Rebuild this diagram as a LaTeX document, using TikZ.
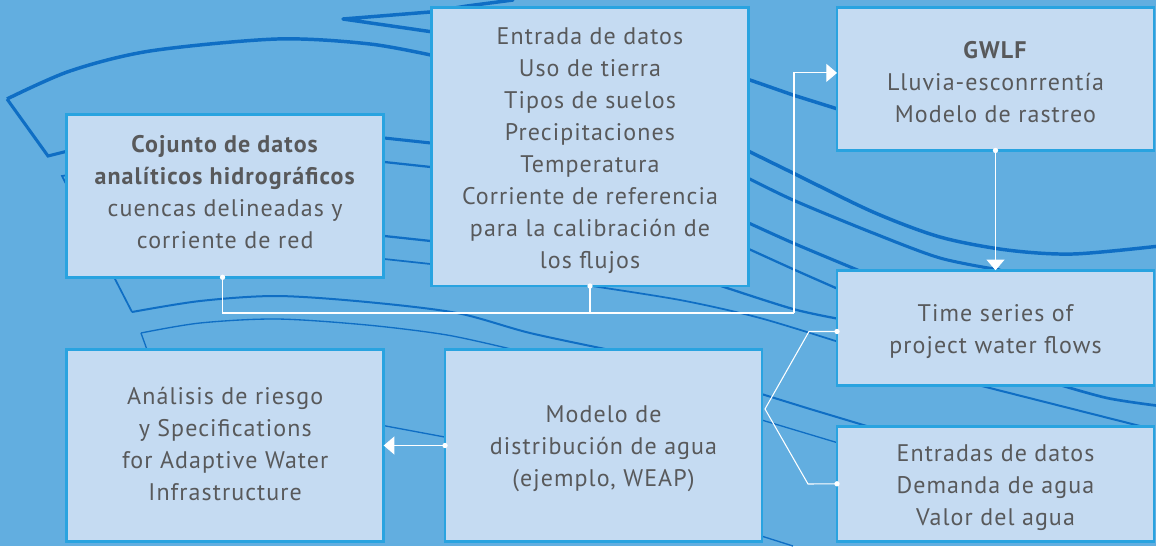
\documentclass[tikz,border=0pt]{standalone}
\usepackage{fontspec}
\setmainfont{PT Sans}[LetterSpace=4.5,Ligatures=Common]
\usepackage{tikz}
\usetikzlibrary{arrows.meta}

\definecolor{riverbg}{HTML}{62AEE0}
\definecolor{riverline}{HTML}{0F6EC4}
\definecolor{boxfill}{HTML}{C5DBF2}
\definecolor{boxline}{HTML}{29A3E0}
\definecolor{boxtext}{HTML}{58595B}

% pads above the first line or under the last one
\newcommand{\padtop}[1]{\rule{0pt}{#1}}
\newcommand{\padbot}[1]{\rule[-#1]{0pt}{#1}}

\tikzset{
  modelbox/.style={draw=boxline,fill=boxfill,text=boxtext,line width=2pt,
    inner sep=0pt,outer sep=0pt,minimum width=237.75pt,align=center,
    font=\fontsize{18}{24}\selectfont},
  river/.style={riverline,line join=miter},
  flow/.style={white,line width=0.8pt,-{Triangle[length=8pt,width=13.5pt]}},
  link/.style={white,line width=0.8pt},
  pin/.style={white}
}

\begin{document}
\begin{tikzpicture}[x=0.75pt,y=-0.75pt]
    \useasboundingbox (0,0) rectangle (1156,546);
    \clip (0,0) rectangle (1156,546);
    \fill[riverbg] (0,0) rectangle (1156,546);

    % Fork at the top of the stream
    \draw[river,line width=2.6pt,line cap=round,line join=round]
      (513,0) -- (467,6) -- (430,12) -- (343,19) -- (440,33);
    \draw[river,line width=2.6pt] (740,77) -- (750,80) -- (793,95) -- (860,116);

    % Long outer bank
    \draw[river,line width=2.6pt] plot[smooth,tension=0.5] coordinates
      {(7,99) (70,71) (150,51) (277,39) (370,44) (440,57)};
    \draw[river,line width=2.6pt] plot[smooth,tension=0.5] coordinates
      {(740,147) (793,173) (873,212) (940,237) (1007,250) (1073,254) (1160,246)};
    \draw[river,line width=2.3pt] plot[smooth,tension=0.5] coordinates
      {(740,174) (793,200) (873,233) (940,258) (1000,270)};

    % Inner banks, with their bends on the left
    \draw[river,line width=2.3pt] (7,99) -- (48,156) -- (100,143);
    \draw[river,line width=2.3pt] (375,137) -- (440,144);
    \draw[river,line width=2.3pt] plot[smooth,tension=0.5] coordinates
      {(740,219) (793,243) (860,271)};
    \draw[river,line width=1.3pt] (100,170) -- (62,176) -- (132,312);
    \draw[river,line width=1.7pt] (375,161) -- (440,168);
    \draw[river,line width=1.7pt] plot[smooth,tension=0.5] coordinates
      {(740,245) (795,270) (845,292)};

    % Middle branches
    \draw[river,line width=1.7pt] (375,235) -- (440,242);
    \draw[river,line width=1.7pt] plot[smooth,tension=0.5] coordinates
      {(715,284) (793,309) (845,320)};
    \draw[river,line width=1.3pt] (375,258) -- (440,265);
    \draw[river,line width=1.3pt] plot[smooth,tension=0.5] coordinates
      {(585,285) (680,300) (760,318) (845,344)};

    % Lower branches
    \draw[river,line width=1.5pt] plot[smooth,tension=0.5] coordinates
      {(132,312) (200,301) (277,296) (367,302) (457,313) (530,333) (615,351)};
    \draw[river,line width=1.5pt] (755,392) -- (810,409) -- (870,427);
    \draw[river,line width=1pt] plot[smooth,tension=0.5] coordinates
      {(141,333) (200,323) (277,319) (367,325) (447,335) (515,350)};
    \draw[river,line width=1pt] (755,418) -- (845,445);
    \draw[river,line width=1pt] (141,333) -- (150,358);
    \draw[river,line width=1pt] (375,424) -- (450,438);
    \draw[river,line width=1pt] (755,534) -- (793,546);

    % Right end, under the time series box
    \draw[river,line width=2pt] plot[smooth,tension=0.5] coordinates
      {(1050,382) (1107,398) (1160,406)};
    \draw[river,line width=1.5pt] plot[smooth,tension=0.5] coordinates
      {(970,383) (1045,402) (1140,426)};

    % Boxes
    \node[modelbox,minimum height=122.25pt] (hidro) at (225.2,195.8)
      {\textbf{Cojunto de datos}\\\textbf{analíticos hidrográficos}\\cuencas delineadas y\\corriente de red\padbot{6pt}};
    \node[modelbox,minimum height=209pt] (entrada) at (590,146.7)
      {\padtop{19pt}Entrada de datos\\Uso de tierra\\Tipos de suelos\\Precipitaciones\\Temperatura\\Corriente de referencia\\para la calibración de\\los flujos};
    \node[modelbox,minimum height=107.3pt] (gwlf) at (995.5,78.9)
      {\padtop{17pt}\textbf{GWLF}\\Lluvia-esconrrentía\\Modelo de rastreo};
    \node[modelbox,minimum height=86.6pt] (series) at (995.5,328)
      {\padtop{18pt}Time series of\\project water flows};
    \node[modelbox,minimum height=86.3pt] (demanda) at (995.5,483.8)
      {\padtop{19pt}Entradas de datos\\Demanda de agua\\Valor del agua};
    \node[modelbox,minimum height=144.3pt] (weap) at (603.5,445.5)
      {\padtop{18pt}Modelo de\\distribución de agua\\(ejemplo, WEAP)};
    \node[modelbox,minimum height=144.3pt] (riesgo) at (225.2,445.5)
      {Análisis de riesgo\\y Specifications\\for Adaptive Water\\Infrastructure\padbot{2.5pt}};

    % Connectors
    \coordinate (bus) at (794,313);
    \coordinate (split) at (765,409);
    \draw[link] ([xshift=-2pt]hidro.south) |- (bus);
    \draw[link] (entrada.south) -- (entrada.south |- bus);
    \draw[flow] (bus) |- ([yshift=4.5pt]gwlf.west);
    \draw[flow] (gwlf.south) -- (series.north);
    \draw[flow] (weap.west) -- (riesgo.east);
    \draw[link] ([yshift=-2.6pt]series.west) -- +(-28,0) -- (split) -- (808,484) -- (demanda.west);

    % Pins where a connector leaves a box
    \fill[pin] ([xshift=-2pt]hidro.south) circle (2pt);
    \fill[pin] (entrada.south) circle (2pt);
    \fill[pin] (gwlf.south) circle (2pt);
    \fill[pin] (weap.west) circle (2pt);
    \fill[pin] ([yshift=-2.6pt]series.west) circle (2pt);
    \fill[pin] (demanda.west) circle (2pt);
\end{tikzpicture}
\end{document}
